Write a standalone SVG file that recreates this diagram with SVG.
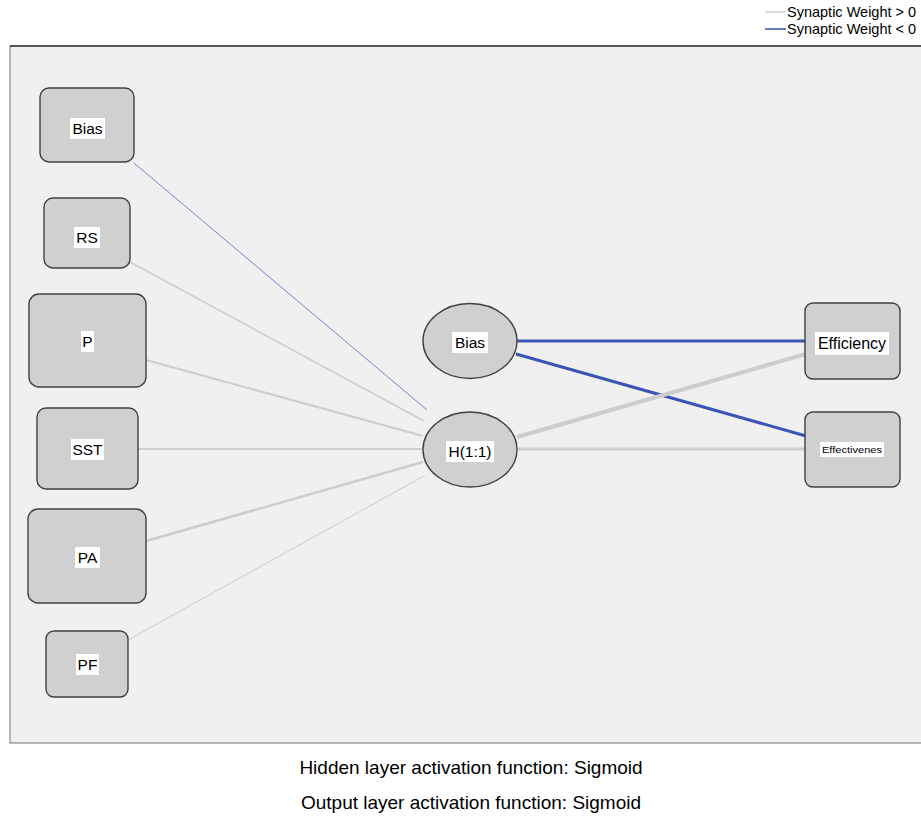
<svg xmlns="http://www.w3.org/2000/svg" width="921" height="816" viewBox="0 0 921 816">
<style>
.t{font-family:"Liberation Sans",Arial,sans-serif;fill:#000}
.nl{font-size:15.5px;text-anchor:middle}
.node rect.box{fill:#d0d0d0;stroke:#404040;stroke-width:1.4}
.node ellipse{fill:#d0d0d0;stroke:#404040;stroke-width:1.4}
.lbl{fill:#fff}
.pos{stroke:#cdcdcd;fill:none}
.neg{stroke:#3a55b4;fill:none}
</style>
<rect x="0" y="0" width="921" height="816" fill="#fff"/>
<g id="legend">
<line x1="765" y1="12" x2="786" y2="12" stroke="#d0d0d0" stroke-width="1.5"/>
<text class="t" x="787" y="17" font-size="14.5">Synaptic Weight &gt; 0</text>
<line x1="765" y1="29" x2="786" y2="29" stroke="#6a80c4" stroke-width="2"/>
<text class="t" x="787" y="34" font-size="14.5">Synaptic Weight &lt; 0</text>
</g>
<g id="frame">
<rect x="10" y="46" width="920" height="697" fill="#f0f0f0" stroke="#707070" stroke-width="1"/>
<line x1="10" y1="46" x2="921" y2="46" stroke="#555" stroke-width="2"/>
</g>
<g id="connectors">
<line x1="134" y1="163" x2="427" y2="410" stroke="#7088cc" stroke-width="1"/>
<line class="pos" x1="130" y1="262" x2="424" y2="421" stroke-width="1.5"/>
<line class="pos" x1="146" y1="360" x2="423" y2="436" stroke-width="2"/>
<line class="pos" x1="138" y1="449" x2="422" y2="449" stroke-width="2"/>
<line class="pos" x1="146" y1="541" x2="423" y2="462" stroke-width="2.5"/>
<line class="pos" x1="128" y1="640" x2="424" y2="476" stroke-width="1"/>
<line class="neg" x1="517" y1="341" x2="806" y2="341" stroke-width="3"/>
<line class="neg" x1="516" y1="354" x2="806" y2="436" stroke-width="3"/>
<line class="pos" x1="517" y1="437" x2="806" y2="354" stroke-width="4"/>
<line class="pos" x1="518" y1="449" x2="806" y2="449" stroke-width="3"/>
</g>
<g id="in_bias" class="node">
<rect class="box" x="40" y="88" width="94" height="74" rx="9"/>
<rect class="lbl" x="70" y="118" width="35" height="21"/>
<text class="t nl" x="87.5" y="134">Bias</text>
</g>
<g id="in_rs" class="node">
<rect class="box" x="44" y="198" width="86" height="70" rx="9"/>
<rect class="lbl" x="74" y="227" width="26" height="21"/>
<text class="t nl" x="87" y="243">RS</text>
</g>
<g id="in_p" class="node">
<rect class="box" x="29" y="294" width="117" height="93" rx="10"/>
<rect class="lbl" x="81" y="331" width="13" height="21"/>
<text class="t nl" x="87.5" y="347">P</text>
</g>
<g id="in_sst" class="node">
<rect class="box" x="37" y="408" width="101" height="81" rx="9"/>
<rect class="lbl" x="71" y="439" width="33" height="21"/>
<text class="t nl" x="87.5" y="455">SST</text>
</g>
<g id="in_pa" class="node">
<rect class="box" x="28" y="509" width="118" height="94" rx="10"/>
<rect class="lbl" x="75" y="547" width="25" height="21"/>
<text class="t nl" x="87.5" y="563">PA</text>
</g>
<g id="in_pf" class="node">
<rect class="box" x="46" y="631" width="82" height="66" rx="8"/>
<rect class="lbl" x="76" y="654" width="23" height="21"/>
<text class="t nl" x="87.5" y="670">PF</text>
</g>
<g id="hid_bias" class="node">
<ellipse cx="470" cy="341" rx="47" ry="37.5"/>
<rect class="lbl" x="452" y="332" width="36" height="21"/>
<text class="t nl" x="470" y="348">Bias</text>
</g>
<g id="hid_h11" class="node">
<ellipse cx="470" cy="449.5" rx="47" ry="37.5"/>
<rect class="lbl" x="446" y="441" width="48" height="21"/>
<text class="t nl" x="470" y="457">H(1:1)</text>
</g>
<g id="out_efficiency" class="node">
<rect class="box" x="805" y="303" width="95" height="76" rx="8"/>
<rect class="lbl" x="815" y="332" width="74" height="23"/>
<text class="t" x="852" y="349" font-size="16" text-anchor="middle">Efficiency</text>
</g>
<g id="out_effectivenes" class="node">
<rect class="box" x="805" y="412" width="95" height="75" rx="8"/>
<rect class="lbl" x="820" y="442" width="64" height="15"/>
<text class="t" x="822" y="453" font-size="9" textLength="60" lengthAdjust="spacingAndGlyphs" fill="#333">Effectivenes</text>
</g>
<g id="footer">
<text class="t" x="471" y="774" font-size="19" text-anchor="middle" fill="#222">Hidden layer activation function: Sigmoid</text>
<text class="t" x="471" y="809" font-size="19" text-anchor="middle" fill="#222">Output layer activation function: Sigmoid</text>
</g>
</svg>
